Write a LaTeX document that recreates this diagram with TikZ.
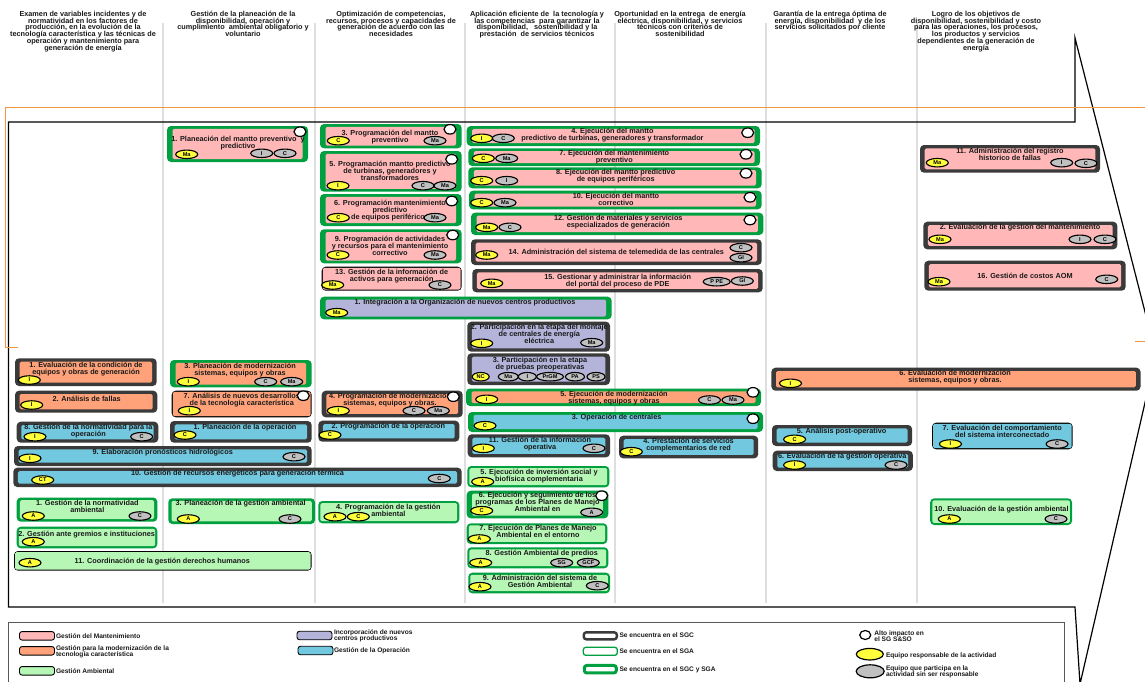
\documentclass[tikz,border=0pt]{standalone}
\usepackage{fontspec}
\setmainfont{Liberation Sans}
\usetikzlibrary{shapes.geometric}

\definecolor{pinkf}{RGB}{255,183,183}
\definecolor{orangef}{RGB}{255,162,122}
\definecolor{lavf}{RGB}{180,180,218}
\definecolor{bluef}{RGB}{114,200,222}
\definecolor{greenf}{RGB}{182,247,182}
\definecolor{sgcline}{RGB}{58,58,58}
\definecolor{sgaline}{RGB}{0,160,64}
\definecolor{sepline}{RGB}{222,222,222}
\definecolor{framel}{RGB}{240,150,60}
\definecolor{yel}{RGB}{255,255,60}
\definecolor{gry}{RGB}{192,192,192}

\tikzset{
  every node/.style={inner sep=0pt, outer sep=0pt},
  lbl/.style={anchor=north, align=center, text=black!90,
    font=\bfseries\fontsize{7.3}{6.9}\selectfont},
  hdr/.style={anchor=north, align=center, text=black!90,
    font=\bfseries\fontsize{7.3}{6.9}\selectfont},
  legtxt/.style={anchor=north west, align=left, text=black!90,
    font=\bfseries\fontsize{6.6}{6.1}\selectfont},
  badge/.style={ellipse, draw=black, line width=1.1pt, minimum width=22pt,
    minimum height=8.5pt, font=\bfseries\fontsize{5.6}{6}\selectfont},
  resp/.style={badge, fill=yel},
  part/.style={badge, fill=gry},
  hiimp/.style={ellipse, draw=black, line width=1.2pt, fill=white,
    minimum width=12pt, minimum height=9.5pt},
  swatch/.style={draw=black, line width=0.9pt, rounded corners=2.5pt,
    minimum width=35pt, minimum height=8.5pt},
}

% activity box: outer shell in the border colour, inner panel in the area colour
% #1 name, #2 border, #3 fill, #4-#7 x1 y1 x2 y2, #8 side inset, #9 top/bottom inset
\newcommand\dbox[9]{%
  \node[fill=#2, rounded corners=4pt, minimum width={(#6-#4)*1pt},
    minimum height={(#7-#5)*1pt}] (#1) at ({(#4+#6)/2},{(#5+#7)/2}) {};
  \node[fill=#3, rounded corners=1.5pt, minimum width={(#6-#4-2*#8)*1pt},
    minimum height={(#7-#5-2*#9)*1pt}] (#1-in) at (#1.center) {};}
\newcommand\actsgc[6]{\dbox{#1}{sgcline}{#2}{#3}{#4}{#5}{#6}{4.6}{3.4}}
\newcommand\actboth[6]{\dbox{#1}{sgaline}{#2}{#3}{#4}{#5}{#6}{5.5}{2.8}}
\newcommand\actsgam[6]{\dbox{#1}{sgaline}{#2}{#3}{#4}{#5}{#6}{3.2}{2.6}}
\newcommand\actsga[6]{\dbox{#1}{sgaline}{#2}{#3}{#4}{#5}{#6}{2.1}{2.1}}
\newcommand\actblk[6]{\dbox{#1}{black}{#2}{#3}{#4}{#5}{#6}{1.1}{1.1}}
% text block, #3 = height of the first line's middle
\newcommand\acttxt[4]{\node[lbl] (#1) at (#2,{#3-4.4}) {\rule{0pt}{7pt}#4};}
\newcommand\hdrtxt[4]{\node[hdr] (#1) at (#2,{#3-4.4}) {\rule{0pt}{7pt}#4};}
\newcommand\legt[4]{\node[legtxt] (#1) at (#2,{#3-4.1}) {\rule{0pt}{6.5pt}#4};}
% team badges and high-impact marks
\newcommand\respb[5][22]{\node[resp, minimum width=#1pt] (#2) at (#3,#4) {#5};}
\newcommand\partb[5][22]{\node[part, minimum width=#1pt] (#2) at (#3,#4) {#5};}
\newcommand\himark[3]{\node[hiimp] (#1) at (#2,#3) {};}

\begin{document}
\lineskiplimit=-20pt\relax
\begin{tikzpicture}[x=1pt, y=-1pt]
\useasboundingbox (0,0) rectangle (1145,681);

% ---------- column separators ----------
\foreach \sx in {163,315,465,615,766,917}
  \draw[sepline, line width=1.2pt] (\sx,23) -- (\sx,603);

% ---------- process frame ----------
\begin{scope}
\clip (0,0) rectangle (1145,681);
\draw[black, line width=1.2pt] (8.5,122) -- (1075,122) -- (1075,38) -- (1156,355)
  -- (1080,684) -- (1075,607) -- (8.5,607) -- cycle;
\draw[framel, line width=1pt] (1145,107.3) -- (5.7,107.3) -- (5.7,347.5) -- (18.3,347.5);
\draw[framel, line width=1pt] (1135,341) -- (1145,341);
\end{scope}

% ---------- column headings ----------
\hdrtxt{h1}{83}{13.5}{Examen de variables incidentes y de\\normatividad en los factores de\\producción, en la evolución de la\\tecnología característica y las técnicas de\\operación y mantenimiento para\\generación de energía}
\hdrtxt{h2}{243}{13.5}{Gestión de la planeación de la\\disponibilidad, operación y\\cumplimiento\ \ ambiental obligatorio y\\voluntario}
\hdrtxt{h3}{391}{13.5}{Optimización de competencias,\\recursos, procesos y capacidades de\\generación de acuerdo con las\\necesidades}
\hdrtxt{h4}{537}{13.5}{Aplicación eficiente de\ \ la tecnología y\\las competencias\ \ para garantizar la\\disponibilidad,\ \ \ sostenibilidad y la\\prestación\ \ de servicios técnicos}
\hdrtxt{h5}{680}{13.5}{Oportunidad en la entrega\ \ de energía\\eléctrica, disponibilidad, y servicios\\técnicos con criterios de\\sostenibilidad}
\hdrtxt{h6}{830}{13.5}{Garantía de la entrega óptima de\\energía, disponibilidad\ \ y de los\\servicios solicitados por cliente}
\hdrtxt{h7}{976}{13.5}{Logro de los objetivos de\\disponibilidad, sostenibilidad y costo\\para las operaciones, los procesos,\\los productos y servicios\\dependientes de la generación de\\energía}

% ---------- maintenance management ----------
\actboth{pmpp}{pinkf}{167}{126}{308}{162}
\acttxt{pmpp-t}{238}{139.3}{1. Planeación del mantto preventivo\ \ y\\predictivo}
\respb{pmpp-r}{186.7}{154.3}{Ma}
\partb{pmpp-a}{261.7}{153.3}{I}
\partb{pmpp-b}{285}{153.3}{C}
\himark{pmpp-h}{300}{131.7}

\actboth{pmp}{pinkf}{320}{124}{461.7}{148.3}
\acttxt{pmp-t}{390}{133.3}{3. Programación del mantto\\preventivo}
\respb{pmp-r}{338.3}{140.7}{C}
\partb{pmp-a}{435}{140.7}{Ma}
\himark{pmp-h}{450}{129.3}

\actboth{pmt}{pinkf}{320}{151}{461.7}{191.7}
\acttxt{pmt-t}{390}{164.3}{5. Programación mantto predictivo\\de turbinas, generadores y\\transformadores}
\respb{pmt-r}{338}{185.7}{I}
\partb{pmt-a}{423}{185.7}{C}
\partb{pmt-b}{445}{185.7}{Ma}
\himark{pmt-h}{451.7}{159.3}

\actboth{pme}{pinkf}{320}{194}{461.7}{226}
\acttxt{pme-t}{390}{203.3}{6. Programación mantenimiento\\predictivo\\de equipos periféricos}
\respb{pme-r}{338.3}{217.7}{C}
\partb{pme-a}{435}{217.7}{Ma}
\himark{pme-h}{451.7}{201}

\actboth{pac}{pinkf}{320}{229.3}{461.7}{263.3}
\acttxt{pac-t}{390}{239.3}{9. Programación de actividades\\y recursos para el mantenimiento\\correctivo}
\respb{pac-r}{338}{255}{C}
\partb{pac-a}{435}{255}{Ma}
\himark{pac-h}{452.7}{235}

\actblk{gia}{pinkf}{321.7}{266.7}{461.7}{290.7}
\acttxt{gia-t}{391.7}{271.7}{13. Gestión de la información de\\activos para generación}
\respb{gia-r}{332.7}{285}{Ma}
\partb{gia-a}{440}{285}{C}

\actboth{ept}{pinkf}{466.7}{126}{760}{146}
\acttxt{ept-t}{612.5}{130.7}{4. Ejecución del mantto\\predictivo de turbinas, generadores y transformador}
\respb{ept-r}{481.7}{138.3}{I}
\partb{ept-a}{503.3}{138.3}{C}
\himark{ept-h}{747.7}{132.7}

\actboth{emp}{pinkf}{468.3}{148.3}{760}{166}
\acttxt{emp-t}{614.3}{152.7}{7. Ejecución del mantenimiento\\preventivo}
\respb{emp-r}{483.3}{158.3}{C}
\partb{emp-a}{506.7}{158.3}{Ma}
\himark{emp-h}{746}{154.3}

\actboth{epe}{pinkf}{468.3}{167.3}{761.7}{188.3}
\acttxt{epe-t}{615.7}{172.3}{8. Ejecución del mantto predictivo\\de equipos periféricos}
\respb{epe-r}{481.7}{180.7}{C}
\partb{epe-a}{506.7}{180.7}{I}
\himark{epe-h}{746}{173.3}

\actboth{emc}{pinkf}{469}{190.7}{761.7}{209.3}
\acttxt{emc-t}{616}{196}{10. Ejecución del mantto\\correctivo}
\respb{emc-r}{481.7}{202.7}{C}
\partb{emc-a}{505}{202.7}{Ma}
\himark{emc-h}{750}{197.3}

\actboth{gms}{pinkf}{471}{212.7}{763.3}{235}
\acttxt{gms-t}{618.3}{218.3}{12. Gestión de materiales y servicios\\especializados de generación}
\respb{gms-r}{486.7}{227.3}{Ma}
\partb{gms-a}{510}{227.3}{C}
\himark{gms-h}{750}{220}

\actsgc{ast}{pinkf}{471}{239.3}{761.7}{265}
\acttxt{ast-t}{616.3}{251.7}{14. Administración del sistema de telemedida de las centrales}
\respb{ast-r}{486.7}{255}{Ma}
\partb{ast-a}{741}{247.7}{C}
\partb{ast-b}{741}{257.7}{GI}

\actsgc{gpp}{pinkf}{472.3}{269}{762.7}{292.3}
\acttxt{gpp-t}{617.7}{276.7}{15. Gestionar y administrar la información\\del portal del proceso de PDE}
\respb{gpp-r}{491.7}{283.3}{Ma}
\partb[27]{gpp-a}{716.7}{281.7}{P PE}
\partb{gpp-b}{742.3}{281}{GI}

\actsgc{arf}{pinkf}{920}{145}{1100}{172.7}
\acttxt{arf-t}{1010}{150.5}{11. Administración del registro\\historico de fallas}
\respb{arf-r}{937.3}{162.7}{Ma}
\partb{arf-a}{1061.7}{162.7}{I}
\partb{arf-b}{1086}{163.3}{C}

\actsgc{egm}{pinkf}{923.3}{221.7}{1117.3}{249.3}
\acttxt{egm-t}{1020}{227.3}{2. Evaluación de la gestión del mantenimiento}
\respb{egm-r}{940}{239.3}{Ma}
\partb{egm-a}{1080}{239.3}{I}
\partb{egm-b}{1105}{239.3}{C}

\actsgc{gca}{pinkf}{924.3}{260.7}{1125.7}{290.7}
\acttxt{gca-t}{1025}{275.7}{16. Gestión de costos AOM}
\respb{gca-r}{939}{281.7}{Ma}
\partb{gca-a}{1106.7}{279.3}{C}

% ---------- new productive centres ----------
\actboth{inc}{lavf}{320}{296.7}{611.7}{319.3}
\acttxt{inc-t}{465}{301.7}{1. Integración a la Organización de nuevos centros productivos}
\respb{inc-r}{336.7}{312.7}{Ma}

\actsgc{pem}{lavf}{467.3}{321.7}{610}{351.7}
\acttxt{pem-t}{539.3}{326.7}{2. Participación en la etapa del montaje\\de centrales de energía\\eléctrica}
\respb{pem-r}{481.7}{343.3}{I}
\partb{pem-a}{591.7}{342.7}{Ma}

\actsgc{pep}{lavf}{467.3}{353.3}{610}{385}
\acttxt{pep-t}{540}{360}{3. Participación en la etapa\\de pruebas preoperativas}
\respb[17]{pep-r}{480.7}{376.7}{NC}
\partb[20]{pep-a}{508.3}{376.7}{Ma}
\partb[18]{pep-b}{527.3}{376.7}{I}
\partb[27]{pep-c}{550}{376.7}{PrGM}
\partb[19]{pep-d}{575}{376.7}{PA}
\partb[18]{pep-e}{596}{376.7}{PS}

% ---------- modernisation of the technology ----------
\actsgc{ecg}{orangef}{15}{358.3}{156.7}{386}
\acttxt{ecg-t}{86}{365}{1. Evaluación de la condición de\\equipos y obras de generación}
\respb{ecg-r}{29.3}{380}{I}

\actsgc{anf}{orangef}{15}{390.7}{157.3}{412.7}
\acttxt{anf-t}{86.7}{399}{2. Análisis de fallas}
\respb{anf-r}{31.7}{405}{I}

\actboth{pms}{orangef}{170}{360}{311.7}{387.3}
\acttxt{pms-t}{240}{366}{3. Planeación de modernización\\sistemas, equipos y obras}
\respb{pms-r}{188.3}{381.7}{I}
\partb{pms-a}{265.7}{381.7}{C}
\partb{pms-b}{291.7}{381.7}{Ma}

\actblk{ndt}{orangef}{171.7}{390.7}{311.7}{417.3}
\acttxt{ndt-t}{241.7}{396}{7. Análisis de nuevos desarrollos\\de la tecnología característica}
\respb{ndt-r}{189.3}{410.7}{I}
\himark{ndt-h}{303.3}{395.7}

\actsgc{pgm}{orangef}{321.7}{390.7}{462.7}{417.3}
\acttxt{pgm-t}{390}{396}{4. Programación de modernización\\sistemas, equipos y obras.}
\respb{pgm-r}{338.3}{410.7}{I}
\partb{pgm-a}{414}{410.7}{C}
\partb{pgm-b}{438.3}{410.7}{Ma}
\himark{pgm-h}{453.3}{396.7}

\actboth{ems}{orangef}{466}{388.5}{761}{406}
\acttxt{ems-t}{614}{394}{5. Ejecución de modernización\\sistemas, equipos y obras}
\respb{ems-r}{486.7}{399.3}{I}
\partb{ems-a}{709.5}{400}{C}
\partb{ems-b}{733}{400}{Ma}
\himark{ems-h}{753}{392.3}

\actsgc{evm}{orangef}{771.4}{367.7}{1140.5}{390.7}
\acttxt{evm-t}{955}{373.3}{6. Evaluación de modernización\\sistemas, equipos y obras.}
\respb{evm-r}{790.5}{383.3}{I}

% ---------- operation ----------
\actsgc{gno}{bluef}{16.7}{421.7}{158.3}{442.7}
\acttxt{gno-t}{88.3}{427.3}{8. Gestión de la normatividad para la\\operación}
\respb{gno-r}{35}{436.7}{I}
\partb{gno-a}{141.7}{436.7}{C}

\actsgc{plo}{bluef}{170}{421}{311.7}{442.7}
\acttxt{plo-t}{245}{426.7}{1. Planeación de la operación}
\respb{plo-r}{185}{435}{C}

\actsgc{pgo}{bluef}{318.3}{420.7}{459.3}{441.7}
\acttxt{pgo-t}{388.3}{426}{2. Programación de la operación}
\respb{pgo-r}{330}{435}{C}

\actsgc{eph}{bluef}{14}{446}{311.7}{466}
\acttxt{eph-t}{162.7}{451.7}{9. Elaboración pronósticos hidrológicos}
\respb{eph-r}{30}{458.3}{I}
\partb{eph-a}{294}{456.7}{C}

\actsgc{gre}{bluef}{13.3}{467.7}{461.7}{487}
\acttxt{gre-t}{237.5}{472.7}{10. Gestión de recursos energéticos para generación térmica}
\respb{gre-r}{42.7}{480}{CT}
\partb{gre-a}{439.3}{478.5}{C}

\actboth{opc}{bluef}{468}{412}{763}{432}
\acttxt{opc-t}{616.6}{417.3}{3. Operación de centrales}
\respb{opc-r}{485}{425.7}{C}
\himark{opc-h}{753}{418.7}

\actsgc{gio}{bluef}{467.7}{434.3}{610}{457.3}
\acttxt{gio-t}{540}{440}{11. Gestión de la información\\operativa}
\respb{gio-r}{483.3}{448.3}{I}
\partb{gio-a}{594}{448.3}{C}

\actsgc{psc}{bluef}{619.1}{435.7}{758.2}{458.3}
\acttxt{psc-t}{688.6}{440.7}{4. Prestación de servicios\\complementarios de red}
\respb{psc-r}{631.3}{451.7}{C}

\actsgc{apo}{bluef}{772}{425}{912.1}{446}
\acttxt{apo-t}{841.6}{430.7}{5. Análisis post-operativo}
\respb{apo-r}{794.6}{439.3}{C}

\actsgc{ego}{bluef}{772.7}{450.7}{912.8}{471}
\acttxt{ego-t}{842.3}{455.7}{6. Evaluación de la gestión operativa}
\respb{ego-r}{794.6}{465}{I}
\partb{ego-a}{896.1}{465}{C}

\actblk{ecs}{bluef}{932}{422.7}{1072.7}{449.3}
\acttxt{ecs-t}{1002.2}{428.3}{7. Evaluación del comportamiento\\del sistema interconectado}
\respb{ecs-r}{950.4}{444}{I}
\partb{ecs-a}{1057.1}{444}{C}

% ---------- environmental management ----------
\actsgam{gna}{greenf}{16.7}{497.5}{157.3}{521.7}
\acttxt{gna-t}{87.3}{502.5}{1. Gestión de la normatividad\\ambiental}
\respb{gna-r}{33.3}{516}{A}
\partb{gna-a}{140}{516}{C}

\actsga{ggi}{greenf}{16.7}{526.7}{157.3}{548.3}
\acttxt{ggi-t}{86.7}{534}{2. Gestión ante gremios e instituciones}
\respb{ggi-r}{33.3}{541.7}{A}

\actblk{cdh}{greenf}{14}{551}{311.7}{570.7}
\acttxt{cdh-t}{162.3}{560.7}{11. Coordinación de la gestión derechos humanos}
\respb{cdh-r}{30}{562.7}{A}

\actsgam{pga}{greenf}{168.3}{498.3}{315}{524}
\acttxt{pga-t}{240.7}{503.3}{3. Planeación de la gestión ambiental}
\respb{pga-r}{188.3}{519}{A}
\partb{pga-a}{290}{519}{C}

\actsga{pgg}{greenf}{318.3}{501}{459.3}{523.3}
\acttxt{pgg-t}{388.3}{506.7}{4. Programación de la gestión\\ambiental}
\respb{pgg-r}{335}{516.7}{A}
\respb{pgg-s}{358.3}{516.7}{C}

\actsga{eis}{greenf}{467.3}{466}{609.3}{487.3}
\acttxt{eis-t}{539}{472.3}{5. Ejecución de inversión social y\\biofísica complementaria}
\respb{eis-r}{482.7}{481.7}{A}

\actboth{esp}{greenf}{466.7}{490.7}{608.3}{518.3}
\acttxt{esp-t}{537.5}{495}{6. Ejecución y seguimiento de los\\programas de los Planes de Manejo\\Ambiental en}
\respb{esp-r}{481.7}{510.7}{C}
\partb{esp-a}{591.7}{512.3}{A}
\himark{esp-h}{601.7}{495.7}

\actsga{epm}{greenf}{466.7}{523.3}{607.3}{544}
\acttxt{epm-t}{538}{528.3}{7. Ejecución de Planes de Manejo\\Ambiental en el entorno}
\respb{epm-r}{479.3}{539}{A}

\actsga{gap}{greenf}{467.3}{547.3}{608.3}{568.3}
\acttxt{gap-t}{541.7}{552.7}{8. Gestión Ambiental de predios}
\respb{gap-r}{480.7}{562.7}{A}
\partb{gap-a}{561.7}{562.7}{SG}
\partb{gap-b}{588.3}{562.7}{GCF}

\actsga{asg}{greenf}{468.3}{572.7}{610}{593.3}
\acttxt{asg-t}{540}{577.7}{9. Administración del sistema de\\Gestión Ambiental}
\respb{asg-r}{480}{586.7}{A}
\partb{asg-a}{597.3}{585.7}{C}

\actsga{ega}{greenf}{930.2}{498.3}{1072}{525}
\acttxt{ega-t}{1001.5}{509}{10. Evaluación de la gestión ambiental}
\respb{ega-r}{949.3}{519}{A}
\partb{ega-a}{1056}{519}{C}

% ---------- legend ----------
\draw[black!65, line width=0.9pt] (8,690) -- (8,622.3) -- (1064,622.3) -- (1064,690);

\node[swatch, fill=pinkf] (lg-mant) at (37,635.8) {};
\legt{lg-mant-t}{56}{635.7}{Gestión del Mantenimiento}
\node[swatch, fill=orangef] (lg-mod) at (37,650.8) {};
\legt{lg-mod-t}{56}{648.3}{Gestión para la modernización de la\\tecnología característica}
\node[swatch, fill=greenf] (lg-amb) at (37,670.8) {};
\legt{lg-amb-t}{56}{670.7}{Gestión Ambiental}

\node[swatch, fill=lavf] (lg-inc) at (314.5,635.5) {};
\legt{lg-inc-t}{334}{632.3}{Incorporación de nuevos\\centros productivos}
\node[swatch, fill=bluef] (lg-op) at (315.5,650.5) {};
\legt{lg-op-t}{334}{650.3}{Gestión de la Operación}

\node[draw=sgcline, line width=2.4pt, rounded corners=2.5pt, fill=white,
  minimum width=33pt, minimum height=7pt] (lg-sgc) at (600.3,635.8) {};
\legt{lg-sgc-t}{619.5}{635.5}{Se encuentra en el SGC}
\node[draw=sgaline, line width=1.3pt, rounded corners=2.5pt, fill=white,
  minimum width=34pt, minimum height=8pt] (lg-sga) at (600.3,651.3) {};
\legt{lg-sga-t}{619.5}{651}{Se encuentra en el SGA}
\node[draw=sgaline, line width=3pt, rounded corners=2.5pt, fill=white,
  minimum width=32pt, minimum height=7.5pt] (lg-both) at (600.3,669.2) {};
\legt{lg-both-t}{619.5}{669}{Se encuentra en el SGC y SGA}

\node[hiimp, minimum width=11pt, minimum height=9pt] (lg-hi) at (865.2,635) {};
\legt{lg-hi-t}{874.4}{633.3}{Alto impacto en\\el SG S\&SO}
\node[ellipse, draw=black, line width=1.2pt, fill=yel, minimum width=27pt,
  minimum height=11.5pt] (lg-resp) at (869.8,654.2) {};
\legt{lg-resp-t}{886}{655}{Equipo responsable de la actividad}
\node[ellipse, draw=black, line width=1.2pt, fill=gry, minimum width=28pt,
  minimum height=13pt] (lg-part) at (870.2,671.3) {};
\legt{lg-part-t}{886}{668}{Equipo que participa en la\\actividad sin ser responsable}
\end{tikzpicture}
\end{document}
